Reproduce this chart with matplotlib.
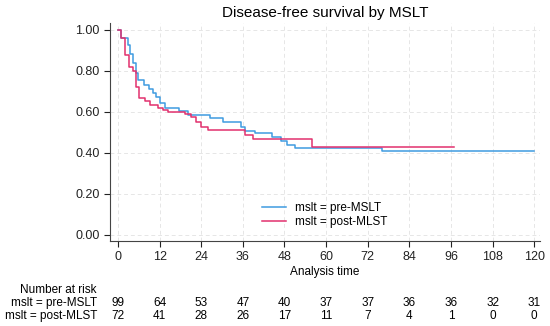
import numpy as np
import matplotlib
matplotlib.use("Agg")
import matplotlib.pyplot as plt
from matplotlib.transforms import blended_transform_factory

plt.rcParams['font.family'] = ['Liberation Sans', 'DejaVu Sans']

# Kaplan-Meier step data (months, survival)
pre_t = [0, 1.0, 2.9, 3.5, 4.3, 5.1, 5.8, 7.5, 9.0, 10.0, 11.0, 12.0, 13.5, 17.5,
         20.2, 26.5, 30.3, 35.5, 36.6, 39.5, 44.5, 47.0, 48.8, 51.0, 76.0, 120.0]
pre_s = [1.0, 0.96, 0.927, 0.883, 0.84, 0.79, 0.757, 0.73, 0.712, 0.69, 0.672, 0.645,
         0.62, 0.605, 0.587, 0.568, 0.55, 0.528, 0.508, 0.495, 0.478, 0.458, 0.44,
         0.425, 0.411, 0.411]

post_t = [0, 1.0, 2.0, 3.2, 4.2, 5.2, 6.1, 7.8, 9.2, 11.5, 13.0, 14.5, 19.3, 21.0,
          22.5, 24.0, 26.0, 36.5, 39.0, 56.0, 97.0]
post_s = [1.0, 0.96, 0.88, 0.82, 0.80, 0.72, 0.667, 0.652, 0.635, 0.62, 0.61, 0.60,
          0.592, 0.577, 0.553, 0.528, 0.51, 0.488, 0.467, 0.43, 0.43]

risk_times = [0, 12, 24, 36, 48, 60, 72, 84, 96, 108, 120]
risk_pre = [99, 64, 53, 47, 40, 37, 37, 36, 36, 32, 31]
risk_post = [72, 41, 28, 26, 17, 11, 7, 4, 1, 0, 0]

blue = '#3f9be0'
pink = '#e2306e'
fs = 8.5

fig = plt.figure(figsize=(5.5, 3.26), dpi=100)
ax = fig.add_axes([0.2, 0.2607, 0.782, 0.6687])

ax.step(pre_t, pre_s, where='post', color=blue, lw=1.1, label='mslt = pre-MSLT')
ax.step(post_t, post_s, where='post', color=pink, lw=1.1, label='mslt = post-MLST')

ax.set_xlim(-2.3, 121.7)
ax.set_ylim(-0.03, 1.034)
ax.set_xticks(risk_times)
ax.set_yticks([0, 0.2, 0.4, 0.6, 0.8, 1.0])
ax.set_yticklabels(['0.00', '0.20', '0.40', '0.60', '0.80', '1.00'])
ax.tick_params(labelsize=9, colors='#222222', length=4, width=0.8)
for s in ['top', 'right']:
    ax.spines[s].set_visible(False)
for s in ['left', 'bottom']:
    ax.spines[s].set_color('#444444')
    ax.spines[s].set_linewidth(0.8)
ax.grid(True, ls=(0, (4, 3)), color='#e6e6e6', lw=0.7)
ax.set_axisbelow(True)

ax.set_title('Disease-free survival by MSLT', fontsize=11, pad=4)
ax.set_xlabel('Analysis time', fontsize=fs, labelpad=2)

leg = ax.legend(loc='lower center', bbox_to_anchor=(0.5, 0.01), frameon=False,
                fontsize=fs, handlelength=2.0, labelspacing=0.2)

# Number at risk table
tr = blended_transform_factory(ax.transData, fig.transFigure)
fig.text(97 / 550, 1 - 290 / 326, 'Number at risk', ha='right', va='center', fontsize=fs)
fig.text(97 / 550, 1 - 303 / 326, 'mslt = pre-MSLT', ha='right', va='center', fontsize=fs)
fig.text(97 / 550, 1 - 316 / 326, 'mslt = post-MLST', ha='right', va='center', fontsize=fs)
for t, a, b in zip(risk_times, risk_pre, risk_post):
    ax.text(t, 1 - 303 / 326, str(a), transform=tr, ha='center', va='center', fontsize=fs)
    ax.text(t, 1 - 316 / 326, str(b), transform=tr, ha='center', va='center', fontsize=fs)

fig.savefig('out.png', dpi=100, facecolor='white')
